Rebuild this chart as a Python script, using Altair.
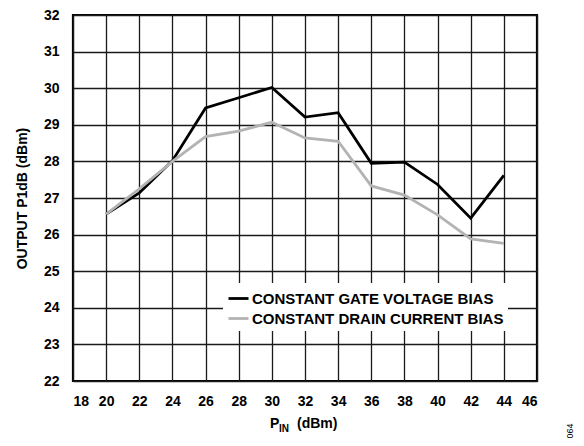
import altair as alt
import pandas as pd

pin = [20, 22, 24, 26, 28, 30, 32, 34, 36, 38, 40, 42, 44]
gate_bias = [26.56, 27.14, 28.02, 29.46, 29.74, 30.02, 29.21, 29.33, 27.95, 27.98, 27.37, 26.45, 27.62]
drain_bias = [26.56, 27.25, 28.0, 28.68, 28.83, 29.07, 28.64, 28.55, 27.33, 27.08, 26.54, 25.88, 25.76]
series_names = ["CONSTANT GATE VOLTAGE BIAS", "CONSTANT DRAIN CURRENT BIAS"]
series_colors = ["#000000", "#b3b3b3"]
x_ticks = list(range(18, 47, 2))
y_ticks = list(range(22, 33, 1))

rows = []
for x, g, d in zip(pin, gate_bias, drain_bias):
    rows.append({"pin": x, "p1db": g, "series": series_names[0]})
    rows.append({"pin": x, "p1db": d, "series": series_names[1]})
df = pd.DataFrame(rows)

FONT = "Liberation Sans"
W, H = 464, 366

lines = alt.Chart(df).mark_line(strokeWidth=2.8, strokeJoin="miter").encode(
    x=alt.X("pin:Q", scale=alt.Scale(domain=[18, 46], nice=False),
            axis=alt.Axis(values=x_ticks, title=None, labelPadding=13, ticks=False,
                          labelFontSize=14, labelFontWeight="bold", labelFont=FONT,
                          labelColor="#000", grid=True, domain=False)),
    y=alt.Y("p1db:Q", scale=alt.Scale(domain=[22, 32], nice=False),
            axis=alt.Axis(values=y_ticks, title="OUTPUT P1dB (dBm)", labelPadding=14, ticks=False,
                          labelFontSize=14, labelFontWeight="bold", labelFont=FONT,
                          labelColor="#000", titleFontSize=14, titleFontWeight="bold",
                          titleFont=FONT, titleColor="#000", titlePadding=14,
                          grid=True, domain=False)),
    color=alt.Color("series:N", scale=alt.Scale(domain=series_names, range=series_colors),
                    sort=series_names,
                    legend=alt.Legend(title=None, orient="none", legendX=150, legendY=268,
                                      fillColor="white", padding=4, symbolType="stroke",
                                      symbolStrokeWidth=2.8, symbolSize=400,
                                      labelFontSize=15, labelFontWeight="bold", labelFont=FONT,
                                      labelColor="#000", rowPadding=-3, labelOffset=2,
                                      labelLimit=400, symbolOffset=0)),
)

title_p = alt.Chart(pd.DataFrame({"t": ["P"]})).mark_text(
    align="left", baseline="alphabetic", fontSize=14, fontWeight="bold", font=FONT, color="#000"
).encode(text="t:N", x=alt.value(197), y=alt.value(413))
title_in = alt.Chart(pd.DataFrame({"t": ["IN"]})).mark_text(
    align="left", baseline="alphabetic", fontSize=10, fontWeight="bold", font=FONT, color="#000"
).encode(text="t:N", x=alt.value(206), y=alt.value(417))
title_rest = alt.Chart(pd.DataFrame({"t": ["(dBm)"]})).mark_text(
    align="left", baseline="alphabetic", fontSize=14, fontWeight="bold", font=FONT, color="#000"
).encode(text="t:N", x=alt.value(224), y=alt.value(413))
code = alt.Chart(pd.DataFrame({"t": ["064"]})).mark_text(
    align="center", baseline="middle", fontSize=9, font=FONT, color="#000", angle=270
).encode(text="t:N", x=alt.value(497), y=alt.value(416))

chart = alt.layer(lines, title_p, title_in, title_rest, code).properties(
    width=W, height=H,
    autosize=alt.AutoSizeParams(type="none"),
    padding={"left": 65, "top": 7, "right": 39, "bottom": 57},
).configure_view(
    stroke="#000", strokeWidth=2.2
).configure_axis(
    gridColor="#1a1a1a", gridWidth=1.3, gridOpacity=1
)

chart.save("out.html", embed_options={"renderer": "svg", "actions": False})
